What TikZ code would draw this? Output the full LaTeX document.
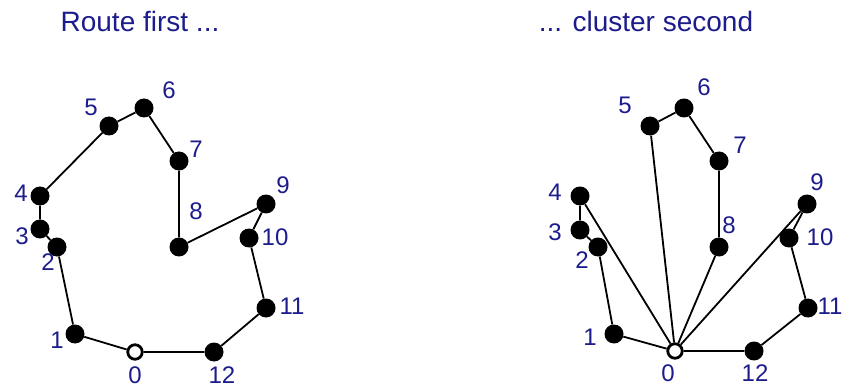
\documentclass[tikz,border=0pt]{standalone}
\usepackage{fontspec}
\setmainfont{Liberation Sans}
\definecolor{lab}{RGB}{28,28,140}
\begin{document}
\begin{tikzpicture}[x=1pt,y=-1pt,
  cust/.style={circle,fill=black,inner sep=0pt,minimum size=19pt},
  depot/.style={circle,draw=black,fill=white,line width=2.8pt,inner sep=0pt,minimum size=14.5pt},
  lbl/.style={text=lab,font=\fontsize{24}{24}\selectfont,inner sep=0pt},
  ttl/.style={text=lab,font=\fontsize{28}{28}\selectfont,inner sep=0pt},
  edge/.style={line width=1.8pt,black}]
\useasboundingbox (0,0) rectangle (842,387);
% titles
\node[ttl] (t1) at (140,21) {Route first ...};
\node[ttl] (t2) at (646,21) {... cluster second};
% left panel
\foreach \n/\x/\y in {1/75/334,2/57/247,3/40/229,4/40/196,5/109/126,6/144/108,7/179/161,8/179/247,9/266/204,10/249/238,11/266/308,12/214/352}
  \node[cust] (L\n) at (\x,\y) {};
\node[depot] (L0) at (135,352) {};
\draw[edge] (L0) -- (L1) -- (L2) -- (L3) -- (L4) -- (L5) -- (L6) -- (L7) -- (L8) -- (L9) -- (L10) -- (L11) -- (L12) -- (L0);
\foreach \n/\x/\y in {0/135/375,1/57/340,2/48/262,3/22/236,4/21/193,5/91/107,6/169/90,7/196/149,8/196/211,9/283/185,10/275/237,11/292/306,12/222/375}
  \node[lbl] (LL\n) at (\x,\y) {\n};
% right panel
\foreach \n/\x/\y in {1/614/334,2/598/247,3/580/230,4/580/196,5/650/126,6/684/108,7/719/161,8/719/247,9/807/204,10/789/238,11/808/308,12/754/351}
  \node[cust] (R\n) at (\x,\y) {};
\node[depot] (R0) at (675,351) {};
\draw[edge] (R0) -- (R1) -- (R2) -- (R3) -- (R4) -- (R0);
\draw[edge] (R0) -- (R5) -- (R6) -- (R7) -- (R8) -- (R0);
\draw[edge] (R0) -- (R9) -- (R10) -- (R11) -- (R12) -- (R0);
\foreach \n/\x/\y in {0/668/373,1/590/337,2/582/260,3/555/232,4/555/192,5/625/105,6/704/87,7/740/145,8/729/225,9/817/182,10/820/237,11/830/306,12/755/373}
  \node[lbl] (RL\n) at (\x,\y) {\n};
\end{tikzpicture}
\end{document}
